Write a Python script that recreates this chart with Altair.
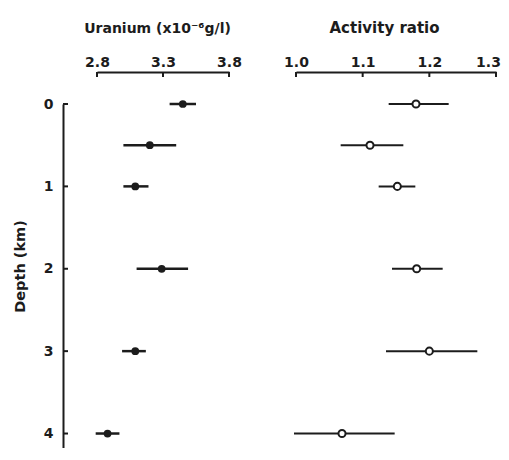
import altair as alt
import pandas as pd

# ---- data ----
depth = [0, 0.5, 1, 2, 3, 4]
uranium = [3.45, 3.20, 3.09, 3.29, 3.09, 2.88]
uranium_lo = [3.35, 3.00, 3.00, 3.10, 2.99, 2.79]
uranium_hi = [3.55, 3.40, 3.19, 3.49, 3.17, 2.97]
ratio = [1.180, 1.111, 1.152, 1.181, 1.200, 1.069]
ratio_lo = [1.139, 1.067, 1.124, 1.144, 1.135, 0.997]
ratio_hi = [1.229, 1.161, 1.179, 1.220, 1.272, 1.148]

u_ticks = [2.8, 3.3, 3.8]
r_ticks = [1.0, 1.1, 1.2, 1.3]
depth_ticks = [0, 1, 2, 3, 4]

df = pd.DataFrame({
    "depth": depth, "u": uranium, "u_lo": uranium_lo, "u_hi": uranium_hi,
    "r": ratio, "r_lo": ratio_lo, "r_hi": ratio_hi,
})
u_tick_df = pd.DataFrame({"t": u_ticks})
r_tick_df = pd.DataFrame({"t": r_ticks})
d_tick_df = pd.DataFrame({"d": depth_ticks})

INK = "#1c1c1c"
FONT = "DejaVu Sans"

yscale = alt.Scale(domain=[0, 4.2], reverse=True, nice=False, zero=False)
X_OFF = 32
Y_OFF = 34
H = 346

# ---------------- left panel ----------------
uscale = alt.Scale(domain=[2.8, 3.8], nice=False, zero=False)
u_axis = alt.Axis(
    orient="top", offset=X_OFF, values=u_ticks, format=".1f", ticks=False,
    labelPadding=3, labelFlush=False, domainColor=INK, domainWidth=2, labelColor=INK,
    labelFont=FONT, labelFontSize=14, labelFontWeight="bold",
    title="Uranium (x10\u207b\u2076g/l)", titleFont=FONT, titleFontSize=14,
    titleFontWeight="bold", titleColor=INK, titlePadding=20, titleX=60,
    grid=False,
)
y_axis = alt.Axis(
    orient="left", offset=Y_OFF, values=depth_ticks, format="d", ticks=False,
    labelPadding=10, domainColor=INK, domainWidth=2, labelColor=INK,
    labelFont=FONT, labelFontSize=14, labelFontWeight="bold",
    title="Depth (km)", titleFont=FONT, titleFontSize=14.5, titleFontWeight="bold",
    titleColor=INK, titlePadding=16, titleY=162, grid=False,
)

u_bars = alt.Chart(df).mark_rule(color=INK, strokeWidth=2.5).encode(
    x=alt.X("u_lo:Q", scale=uscale, axis=u_axis),
    x2="u_hi:Q",
    y=alt.Y("depth:Q", scale=yscale, axis=y_axis),
)
u_pts = alt.Chart(df).mark_point(shape="circle", filled=True, color=INK, size=60, opacity=1).encode(
    x=alt.X("u:Q", scale=uscale),
    y=alt.Y("depth:Q", scale=yscale),
)
u_xticks = alt.Chart(u_tick_df).mark_rule(color=INK, strokeWidth=2).encode(
    x=alt.X("t:Q", scale=uscale),
    y=alt.value(-X_OFF),
    y2=alt.value(-X_OFF + 5),
)
y_ticks = alt.Chart(d_tick_df).mark_rule(color=INK, strokeWidth=2).encode(
    y=alt.Y("d:Q", scale=yscale),
    x=alt.value(-Y_OFF),
    x2=alt.value(-Y_OFF + 5),
)
left = alt.layer(u_bars, u_pts, u_xticks, y_ticks).properties(width=132, height=H)

# ---------------- right panel ----------------
rscale = alt.Scale(domain=[1.0, 1.3], nice=False, zero=False)
r_axis = alt.Axis(
    orient="top", offset=X_OFF, values=r_ticks, format=".1f", ticks=False,
    labelPadding=3, labelFlush=False,
    labelOffset={"condition": {"test": "datum.value >= 1.29", "value": -8}, "value": 0},
    domainColor=INK, domainWidth=2, labelColor=INK,
    labelFont=FONT, labelFontSize=14, labelFontWeight="bold",
    title="Activity ratio", titleFont=FONT, titleFontSize=15,
    titleFontWeight="bold", titleColor=INK, titlePadding=20, titleX=88,
    grid=False,
)
r_bars = alt.Chart(df).mark_rule(color=INK, strokeWidth=2).encode(
    x=alt.X("r_lo:Q", scale=rscale, axis=r_axis),
    x2="r_hi:Q",
    y=alt.Y("depth:Q", scale=yscale, axis=None),
)
r_pts = alt.Chart(df).mark_point(shape="circle", filled=False, color=INK, fill="white",
                                 fillOpacity=1, strokeWidth=2, size=50, opacity=1).encode(
    x=alt.X("r:Q", scale=rscale),
    y=alt.Y("depth:Q", scale=yscale),
)
r_xticks = alt.Chart(r_tick_df).mark_rule(color=INK, strokeWidth=2).encode(
    x=alt.X("t:Q", scale=rscale),
    y=alt.value(-X_OFF),
    y2=alt.value(-X_OFF + 5),
)
right = alt.layer(r_bars, r_pts, r_xticks).properties(width=200, height=H)

chart = alt.hconcat(left, right, spacing=67, bounds="flush").properties(
    padding={"top": 12, "left": 4, "right": 0, "bottom": -2},
    background="white",
).configure_view(stroke=None)

chart.save("out.html", embed_options={"renderer": "svg", "actions": False})
